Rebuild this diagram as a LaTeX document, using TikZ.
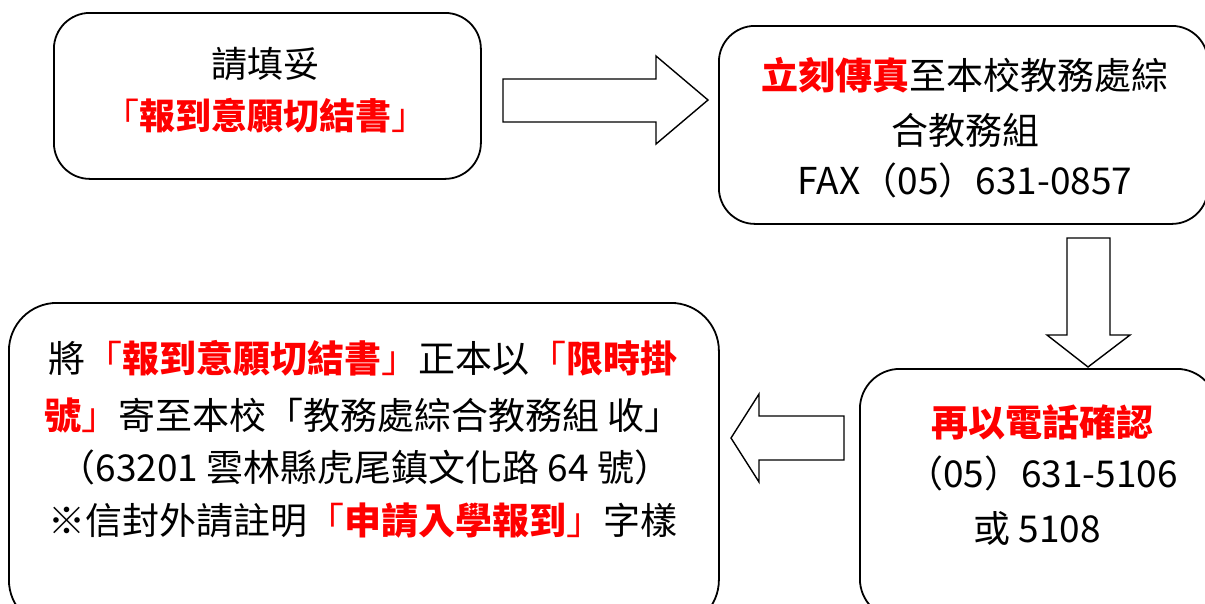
\documentclass[tikz,border=0pt]{standalone}
\usepackage{fontspec}
\setmainfont{Noto Sans CJK TC}
\definecolor{hired}{RGB}{255,0,0}
\newcommand{\hl}[1]{\textcolor{hired}{\bfseries #1}}
\newcommand{\hb}[1]{\textcolor{hired}{#1}}
\tikzset{
  box/.style={draw, line width=1.8pt, rounded corners=36pt, anchor=north west, inner sep=0pt},
  blockarrow/.style={draw, line width=1.4pt, fill=white, line join=miter},
  txt/.style={anchor=base, inner sep=0pt, font=\fontsize{37}{44}\selectfont},
  txts/.style={anchor=base, inner sep=0pt, font=\fontsize{36}{44}\selectfont},
}
\begin{document}
\begin{tikzpicture}[x=1pt,y=-1pt]
\useasboundingbox (0,0) rectangle (1205,603);
\clip (0,0) rectangle (1205,603);
\fill[white] (0,0) rectangle (1205,603);
% boxes
\node[box, minimum width=427pt, minimum height=166pt] (b1) at (53,12) {};
\node[box, minimum width=489pt, minimum height=198pt] (b2) at (718,25) {};
\node[box, minimum width=357pt, minimum height=250pt, rounded corners=40pt] (b3) at (859,368) {};
\node[box, minimum width=710pt, minimum height=325pt, rounded corners=48pt] (b4) at (8,302) {};
% block arrows
\draw[blockarrow] (503,79) -- (656,79) -- (656,56) -- (708,100) -- (656,144) -- (656,122) -- (503,122) -- cycle;
\draw[blockarrow] (1067,238) -- (1110,238) -- (1110,335) -- (1130,335) -- (1088,367) -- (1047,335) -- (1067,335) -- cycle;
\draw[blockarrow] (844,416) -- (759,416) -- (759,394) -- (731,438) -- (759,482) -- (759,460) -- (844,460) -- cycle;
% box 1 text
\node[txts] (t11) at (265,77) {請填妥};
\node[txts] (t12) at (265,129) {\hb{「}\hl{報到意願切結書}\hb{」}};
% box 2 text
\node[txt] (t21) at (965,89) {\hl{立刻傳真}至本校教務處綜};
\node[txt] (t22) at (965,144) {合教務組};
\node[txt] (t23) at (965,194) {FAX（05）631-0857};
% box 3 text
\node[txt] (t31) at (1042,436) {\hl{再以電話確認}};
\node[txt] (t32) at (1042,487) {（05）631-5106};
\node[txt] (t33) at (1037,542) {或 5108};
% box 4 text
\node[txt] (t41) at (363,372) {將\hb{「}\hl{報到意願切結書}\hb{」}正本以\hb{「}\hl{限時掛}};
\node[txt] (t42) at (363,429) {\hl{號}\hb{」}寄至本校「教務處綜合教務組 收」};
\node[txt] (t43) at (365,481) {（63201 雲林縣虎尾鎮文化路 64 號）};
\node[txt] (t44) at (363,534) {※信封外請註明\hb{「}\hl{申請入學報到}\hb{」}字樣};
\end{tikzpicture}
\end{document}
